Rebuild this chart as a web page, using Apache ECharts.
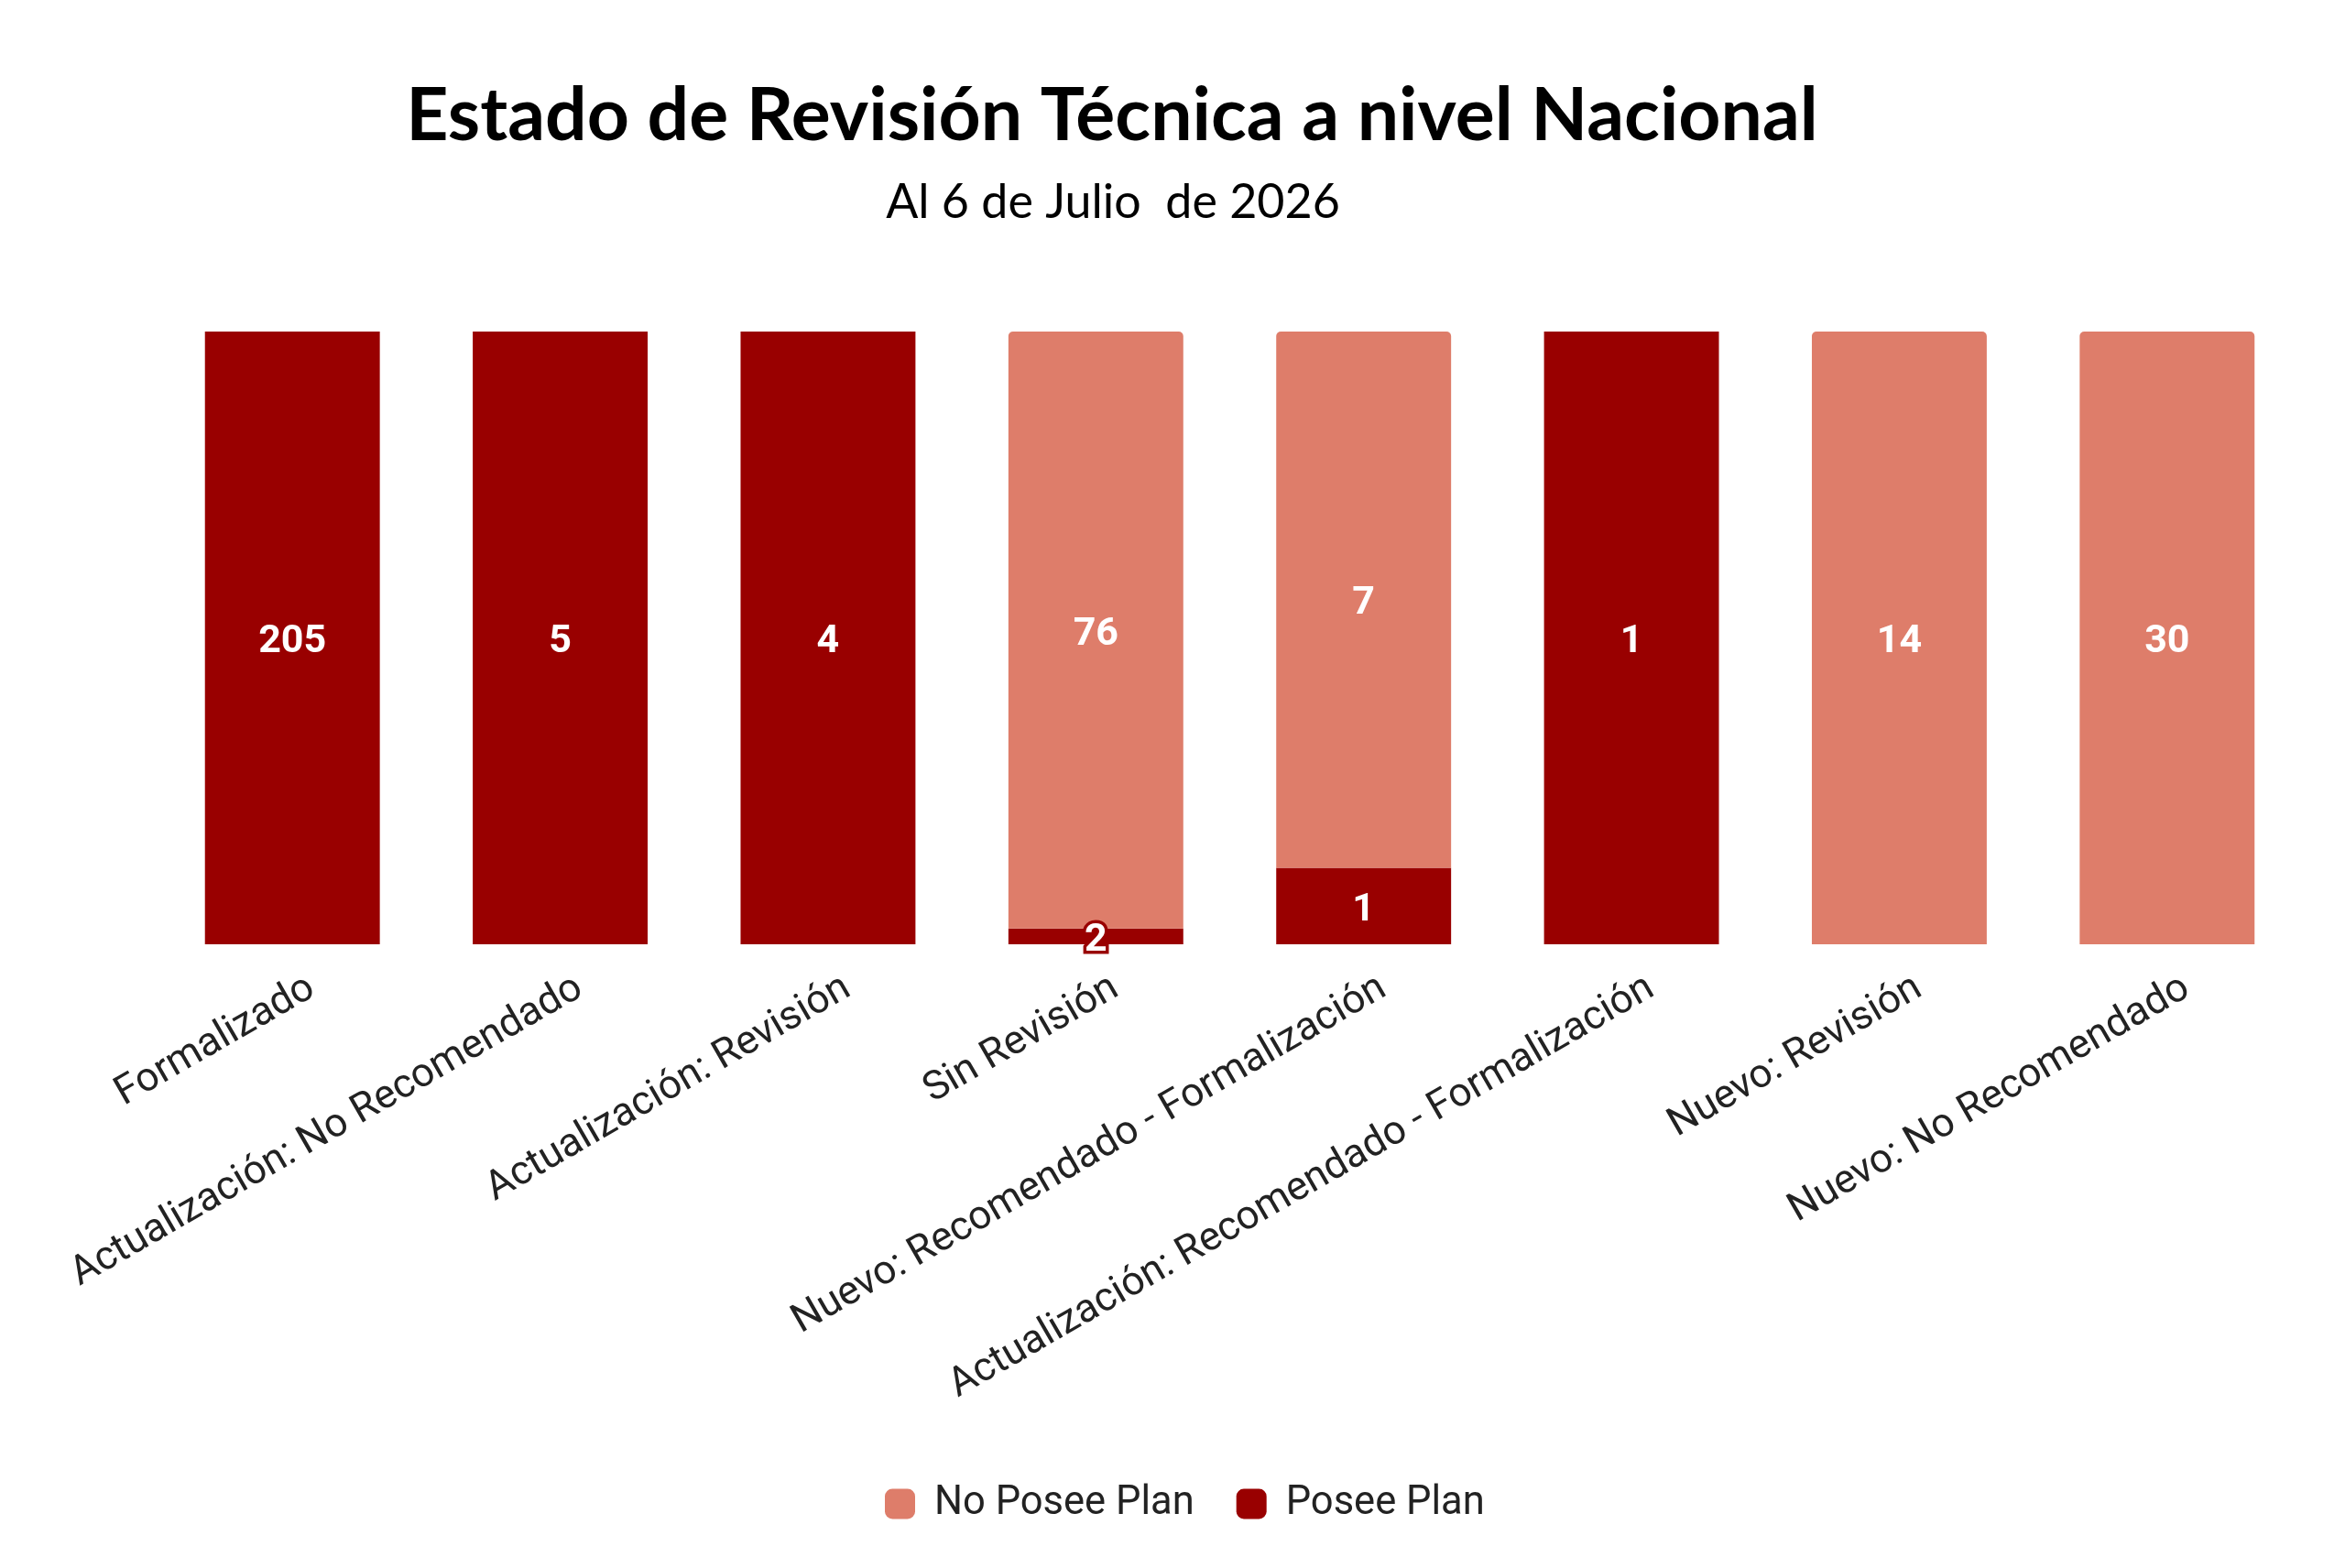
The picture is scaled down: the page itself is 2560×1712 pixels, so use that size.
<!DOCTYPE html>
<html>
<head>
<meta charset="utf-8">
<script src="https://cdn.jsdelivr.net/npm/echarts@6/dist/echarts.min.js"></script>
<style>
html,body{margin:0;padding:0;background:#fff;}
#chart{width:2560px;height:1712px;}
</style>
</head>
<body>
<div id="chart"></div>
<script>
const titleText = 'Estado de Revisión Técnica a nivel Nacional';
const subtitleText = 'Al 6 de Julio  de 2026';
const categories = [
  'Formalizado',
  'Actualización: No Recomendado',
  'Actualización: Revisión',
  'Sin Revisión',
  'Nuevo: Recomendado - Formalización',
  'Actualización: Recomendado - Formalización',
  'Nuevo: Revisión',
  'Nuevo: No Recomendado'
];
const seriesNames = ['No Posee Plan', 'Posee Plan'];
const noPoseePlan = [0, 0, 0, 76, 7, 0, 14, 30];
const poseePlan = [205, 5, 4, 2, 1, 1, 0, 0];

const totals = categories.map((c, i) => noPoseePlan[i] + poseePlan[i]);
const LIGHT = '#DE7D6A';
const DARK = '#990000';

const pct = (arr, outline) => arr.map((v, i) => {
  const share = totals[i] ? v / totals[i] * 100 : 0;
  const d = { value: share, raw: v };
  if (outline && share > 0 && share < 5) {
    d.label = { textBorderColor: outline, textBorderWidth: 7 };
  }
  return d;
});

const chart = echarts.init(document.getElementById('chart'), null, { renderer: 'canvas' });
const labelBase = {
  show: true,
  position: 'inside',
  offset: [0, 5],
  color: '#ffffff',
  fontFamily: 'Roboto',
  fontWeight: 'bold',
  fontSize: 43,
  formatter: (p) => (p.data.raw ? String(p.data.raw) : '')
};
chart.setOption({
  backgroundColor: '#ffffff',
  animation: false,
  title: [
    {
      text: titleText,
      left: 1209, top: 82, textAlign: 'center',
      textStyle: { fontFamily: 'Lato', fontWeight: 'bold', fontSize: 80.5, color: '#000000' }
    },
    {
      text: subtitleText,
      left: 1210, top: 190, textAlign: 'center',
      textStyle: { fontFamily: 'Lato', fontWeight: 'normal', fontSize: 52, color: '#000000' }
    }
  ],
  legend: {
    data: seriesNames,
    bottom: 43,
    left: 961,
    itemWidth: 33,
    itemHeight: 33,
    itemGap: 46,
    icon: 'roundRect',
    textStyle: { fontFamily: 'Roboto', fontSize: 43.5, color: '#222222', padding: [0, 0, 0, 16] }
  },
  grid: { left: 173, right: 48, top: 362, bottom: 681, containLabel: false },
  xAxis: {
    type: 'category',
    data: categories,
    axisLine: { show: false },
    axisTick: { show: false },
    axisLabel: {
      rotate: 30,
      interval: 0,
      margin: 32,
      verticalAlign: 'top',
      padding: [0, -12, 0, 0],
      fontFamily: 'Roboto',
      fontSize: 44,
      color: '#222222'
    }
  },
  yAxis: {
    type: 'value',
    min: 0, max: 100,
    show: false,
    splitLine: { show: false }
  },
  series: [
    {
      name: seriesNames[1],
      type: 'bar',
      stack: 'total',
      barCategoryGap: '34.7%',
      data: pct(poseePlan, DARK),
      itemStyle: { color: DARK },
      label: labelBase
    },
    {
      name: seriesNames[0],
      type: 'bar',
      stack: 'total',
      barCategoryGap: '34.7%',
      data: pct(noPoseePlan, LIGHT),
      itemStyle: { color: LIGHT, borderRadius: [5, 5, 0, 0] },
      label: labelBase
    }
  ]
});
</script>
</body>
</html>
